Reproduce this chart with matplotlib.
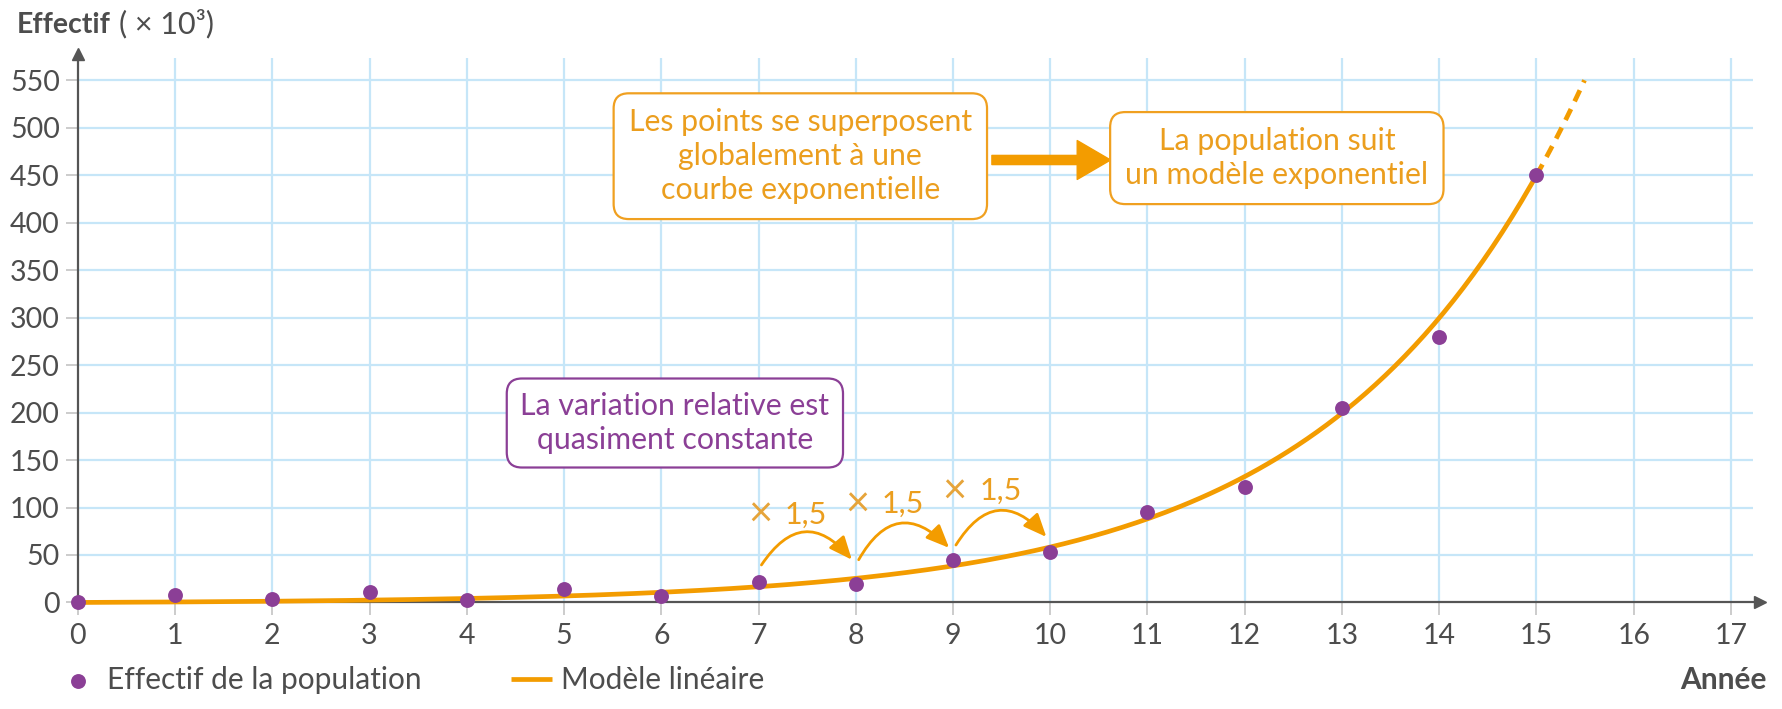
import numpy as np
import matplotlib.pyplot as plt

plt.rcParams['font.family'] = ['Lato', 'DejaVu Sans']

# data
annees = [0, 1, 2, 3, 4, 5, 6, 7, 8, 9, 10, 11, 12, 13, 14, 15]
effectif = [0, 8, 4, 11, 3, 14, 7, 22, 19, 45, 53, 95, 122, 205, 280, 450]
xticks = list(range(0, 18))
yticks = list(range(0, 551, 50))
# exponential model drawn in orange
model_a = 1.03
model_b = 1.5
model_solid_end = 15
model_ymax = 550
# "x 1,5" arrows between consecutive years
ratio_years = [7, 8, 9]
ratio_label = '1,5'
arc_start_y = [39.5, 45, 60.5]
arc_end_y = [45, 57.5, 69]
ratio_text_y = [92, 103, 117]

purple = '#8b3f96'
orange = '#f39c00'
orange_txt = '#eb9e1e'
grid_c = '#c6e6f8'
txt_c = '#4d4d4d'
axis_c = '#555555'

fig = plt.figure(figsize=(17.83, 7.09), dpi=100)
ax = fig.add_axes([0, 0, 1, 1])
ax.set_xlim(-0.8, 17.535)
ax.set_ylim(-112.2, 634.5)

# grid
ax.vlines(xticks[1:], 0, 573, color=grid_c, lw=1.6, zorder=0)
ax.hlines(yticks[1:], 0, 17.23, color=grid_c, lw=1.6, zorder=0)

# axes with arrows
for s in ['top', 'right']:
    ax.spines[s].set_visible(False)
ax.spines['left'].set_position(('data', 0))
ax.spines['bottom'].set_position(('data', 0))
ax.spines['left'].set_bounds(0, 578)
ax.spines['bottom'].set_bounds(0, 17.3)
for s in ['left', 'bottom']:
    ax.spines[s].set_color(axis_c)
    ax.spines[s].set_linewidth(1.6)
    ax.spines[s].set_zorder(3)
ax.plot([17.3], [0], marker='>', ms=9, color=axis_c, clip_on=False, zorder=3)
ax.plot([0], [578], marker='^', ms=9, color=axis_c, clip_on=False, zorder=3)

ax.set_xticks(xticks)
ax.set_yticks(yticks)
ax.tick_params(length=9, width=1.3, color='#c8c8c8', labelsize=20.5,
               labelcolor=txt_c, direction='out')
ax.tick_params(axis='x', pad=6)
ax.tick_params(axis='y', pad=4)

# model curve
xs = np.linspace(0, model_solid_end, 300)
x_end = np.log(model_ymax / model_a + 1) / np.log(model_b)
xd = np.linspace(model_solid_end, x_end, 50)
line, = ax.plot(xs, model_a * (model_b ** xs - 1), color=orange, lw=3.4,
                zorder=4, solid_capstyle='butt')
ax.plot(xd, model_a * (model_b ** xd - 1), color=orange, lw=3.4,
        ls=(0, (2.6, 1.8)), zorder=4)

pts = ax.scatter(annees, effectif, s=115, color=purple, zorder=5, linewidths=0)

# ratio arrows
for yr, ys, ye, ty in zip(ratio_years, arc_start_y, arc_end_y, ratio_text_y):
    ax.annotate('', xy=(yr + 0.96, ye), xytext=(yr + 0.03, ys),
                arrowprops=dict(arrowstyle='-|>,head_length=0.7,head_width=0.3',
                                connectionstyle='arc3,rad=-0.66', color=orange,
                                lw=2, shrinkA=0, shrinkB=0, mutation_scale=20),
                zorder=6)
    ax.text(yr + 0.015, ty, '×', fontsize=30, color='#e6a43a',
            ha='center', va='center', zorder=6)
    ax.text(yr + 0.27, ty - 9, ratio_label, fontsize=22, color=orange_txt,
            ha='left', va='baseline', zorder=6)

# boxes
box_fs = 21.8
ax.text(6.14, 189, 'La variation relative est\nquasiment constante', fontsize=box_fs,
        color=purple, ha='center', va='center', linespacing=1.25, zorder=7,
        bbox=dict(boxstyle='round,pad=0.45,rounding_size=0.5', fc='white',
                  ec=purple, lw=1.6))
ax.text(7.43, 470, 'Les points se superposent\nglobalement à une\ncourbe exponentielle',
        fontsize=box_fs, color=orange_txt, ha='center', va='center', linespacing=1.25,
        zorder=7, bbox=dict(boxstyle='round,pad=0.5,rounding_size=0.5', fc='white',
                            ec='#f0a020', lw=1.6))
ax.text(12.33, 468, 'La population suit\nun modèle exponentiel', fontsize=box_fs,
        color=orange_txt, ha='center', va='center', linespacing=1.25, zorder=7,
        bbox=dict(boxstyle='round,pad=0.5,rounding_size=0.5', fc='white',
                  ec='#f0a020', lw=1.6))
ax.annotate('', xy=(10.62, 466), xytext=(9.4, 466),
            arrowprops=dict(arrowstyle='simple,head_length=1.2,head_width=1.4,tail_width=0.33',
                            color=orange, mutation_scale=20, shrinkA=0, shrinkB=0),
            zorder=6)

# axis titles
fig.text(17 / 1783, 1 - 25 / 709, 'Effectif', fontsize=20.5, fontweight='bold',
         color=txt_c, ha='left', va='center')
fig.text(119 / 1783, 1 - 24 / 709, '( × 10³)', fontsize=22, color=txt_c,
         ha='left', va='center')
fig.text(1767 / 1783, 1 - 680 / 709, 'Année', fontsize=21.5, fontweight='bold',
         color=txt_c, ha='right', va='center')

ax.legend([pts, line], ['Effectif de la population', 'Modèle linéaire'],
          loc='center left', bbox_to_anchor=(58 / 1783, 1 - 680 / 709),
          bbox_transform=fig.transFigure, ncol=2, frameon=False, fontsize=21.5,
          handlelength=1.35, handletextpad=0.3, columnspacing=3.0,
          borderpad=0, borderaxespad=0, labelcolor=txt_c)

fig.savefig('out.png', dpi=100)
